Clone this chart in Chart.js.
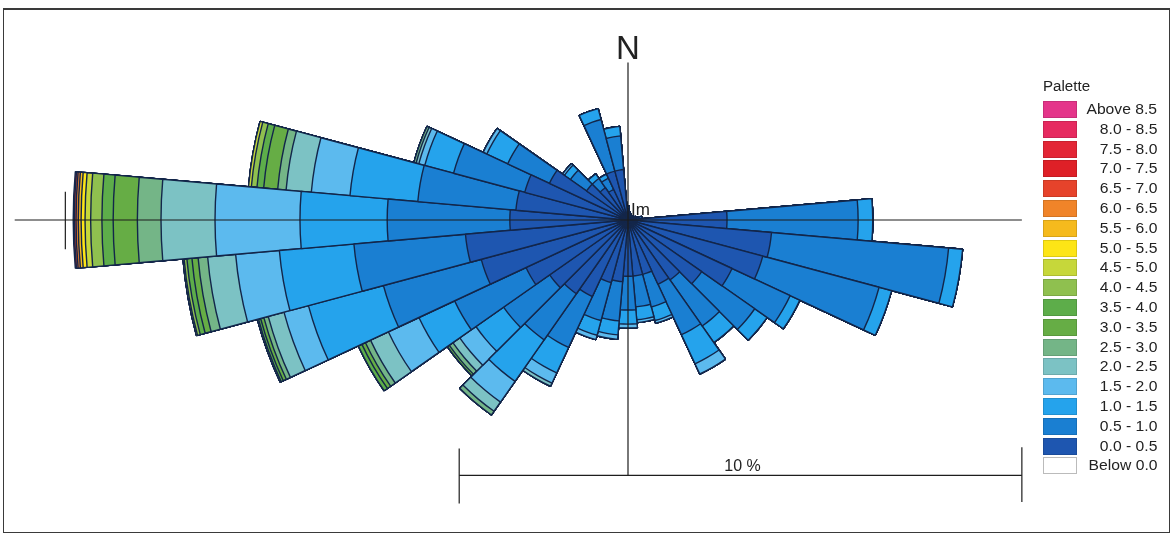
<!DOCTYPE html>
<html>
<head>
<meta charset="utf-8">
<script src="https://cdn.jsdelivr.net/npm/chart.js@4.4.0/dist/chart.umd.min.js"></script>
<style>
  html, body { margin: 0; padding: 0; background: #fff; }
  #wrap { position: relative; width: 1176px; height: 533px; overflow: hidden;
          font-family: "Liberation Sans", Arial, sans-serif; color: #222; }
  #frame { position: absolute; left: 3px; top: 8px; width: 1165px; height: 522px;
           border: 1px solid #3a3a3a; border-top-width: 2px; }
  #chart-box { position: absolute; left: 0; top: 0; width: 1176px; height: 533px; }
  #legend { position: absolute; left: 1043px; top: 78px; width: 114px; }
  #legend .ttl { font-size: 14px; height: 23px; line-height: 16px;
                 transform: scaleX(1.08); transform-origin: left center; }
  #legend .row { position: relative; height: 19.8px; }
  #legend .sw { position: absolute; left: 0; top: 0; width: 34px; height: 17px;
                box-sizing: border-box; border: 1px solid rgba(0,0,0,0.12); }
  #legend .lb { position: absolute; right: 0; top: 0; font-size: 14px; line-height: 17px;
                white-space: nowrap; transform: scaleX(1.12); transform-origin: right center; }
</style>
</head>
<body>
<div id="wrap">
  <div id="frame"></div>
  <div id="chart-box"><canvas id="rose"></canvas></div>
  <div id="legend"></div>
</div>
<script>
// direction sectors, degrees clockwise from north
const DIRECTIONS = [0, 10, 20, 30, 40, 50, 60, 70, 80, 90,
                    100, 110, 120, 130, 140, 150, 160, 170, 180, 190,
                    200, 210, 220, 230, 240, 250, 260, 270, 280, 290,
                    300, 310, 320, 330, 340, 350];

// legend entries, top to bottom
const PALETTE_LABELS = ['Above 8.5', '8.0 - 8.5', '7.5 - 8.0', '7.0 - 7.5', '6.5 - 7.0',
                        '6.0 - 6.5', '5.5 - 6.0', '5.0 - 5.5', '4.5 - 5.0', '4.0 - 4.5',
                        '3.5 - 4.0', '3.0 - 3.5', '2.5 - 3.0', '2.0 - 2.5', '1.5 - 2.0',
                        '1.0 - 1.5', '0.5 - 1.0', '0.0 - 0.5', 'Below 0.0'];
const PALETTE_COLORS = ['#e4358a', '#e62a60', '#e32636', '#de2027', '#e6432b',
                        '#f08429', '#f5ba1d', '#fde516', '#c6d73a', '#8fc04f',
                        '#5dad4a', '#66ad45', '#74b587', '#7cc2c4', '#5cbaee',
                        '#25a3ec', '#1a7fd2', '#1e56b0', '#ffffff'];

// % of records per direction for each class (one value per DIRECTIONS entry)
const pct00_05 = [0.20, 0.15, 0.12, 0.10, 0.10, 0.10, 0.12, 0.15, 0.20, 1.76,
                  2.56, 2.48, 2.04, 1.60, 1.30, 1.26, 1.00, 1.00, 1.00, 1.10,
                  1.15, 1.50, 1.60, 1.70, 2.00, 2.70, 2.90, 2.10, 2.00, 1.90,
                  1.54, 0.90, 0.70, 0.60, 0.90, 0.90];
const pct05_10 = [0.05, 0, 0, 0, 0, 0, 0, 0, 0.05, 2.33,
                  3.16, 2.14, 1.14, 1.15, 1.00, 0.99, 0.60, 0.55, 0.60, 0.70,
                  0.70, 1.00, 1.00, 1.00, 1.40, 1.80, 1.99, 2.18, 1.75, 1.31,
                  0.82, 0.35, 0.20, 0.22, 0.95, 0.60];
const pct10_15 = [0, 0, 0, 0, 0, 0, 0, 0, 0, 0.26,
                  0.25, 0.23, 0.19, 0.27, 0.36, 0.57, 0.25, 0.23, 0.25, 0.25,
                  0.27, 0.50, 0.90, 0.60, 0.70, 1.38, 1.33, 1.55, 1.21, 0.53,
                  0.41, 0.13, 0.10, 0.08, 0.20, 0.17];
const pct15_20 = [0, 0, 0, 0, 0, 0, 0, 0, 0, 0,
                  0, 0, 0, 0, 0, 0.20, 0.05, 0.05, 0.07, 0.08,
                  0.08, 0.20, 0.45, 0.35, 0.60, 0.45, 0.78, 1.51, 0.69, 0.11,
                  0.07, 0.04, 0, 0, 0, 0];
const pct20_25 = [0, 0, 0, 0, 0, 0, 0, 0, 0, 0,
                  0, 0, 0, 0, 0, 0, 0, 0, 0, 0,
                  0, 0.06, 0.20, 0.15, 0.35, 0.29, 0.50, 0.96, 0.45, 0.05,
                  0, 0, 0, 0, 0, 0];
const pct25_30 = [0, 0, 0, 0, 0, 0, 0, 0, 0, 0,
                  0, 0, 0, 0, 0, 0, 0, 0, 0, 0,
                  0, 0, 0.08, 0.08, 0.10, 0.08, 0.17, 0.42, 0.15, 0.04,
                  0, 0, 0, 0, 0, 0];
const pct30_35 = [0, 0, 0, 0, 0, 0, 0, 0, 0, 0,
                  0, 0, 0, 0, 0, 0, 0, 0, 0, 0,
                  0, 0, 0, 0.04, 0.07, 0.06, 0.11, 0.43, 0.25, 0,
                  0, 0, 0, 0, 0, 0];
const pct35_40 = [0, 0, 0, 0, 0, 0, 0, 0, 0, 0,
                  0, 0, 0, 0, 0, 0, 0, 0, 0, 0,
                  0, 0, 0, 0, 0.07, 0.04, 0.09, 0.20, 0.12, 0,
                  0, 0, 0, 0, 0, 0];
const pct40_45 = [0, 0, 0, 0, 0, 0, 0, 0, 0, 0,
                  0, 0, 0, 0, 0, 0, 0, 0, 0, 0,
                  0, 0, 0, 0, 0, 0.02, 0.05, 0.20, 0.10, 0,
                  0, 0, 0, 0, 0, 0];
const pct45_50 = [0, 0, 0, 0, 0, 0, 0, 0, 0, 0,
                  0, 0, 0, 0, 0, 0, 0, 0, 0, 0,
                  0, 0, 0, 0, 0, 0, 0.02, 0.10, 0.05, 0,
                  0, 0, 0, 0, 0, 0];
const pct50_55 = [0, 0, 0, 0, 0, 0, 0, 0, 0, 0,
                  0, 0, 0, 0, 0, 0, 0, 0, 0, 0,
                  0, 0, 0, 0, 0, 0, 0, 0.07, 0, 0,
                  0, 0, 0, 0, 0, 0];
const pct55_60 = [0, 0, 0, 0, 0, 0, 0, 0, 0, 0,
                  0, 0, 0, 0, 0, 0, 0, 0, 0, 0,
                  0, 0, 0, 0, 0, 0, 0, 0.05, 0, 0,
                  0, 0, 0, 0, 0, 0];
const pct60_65 = [0, 0, 0, 0, 0, 0, 0, 0, 0, 0,
                  0, 0, 0, 0, 0, 0, 0, 0, 0, 0,
                  0, 0, 0, 0, 0, 0, 0, 0.04, 0, 0,
                  0, 0, 0, 0, 0, 0];
const pct65_70 = [0, 0, 0, 0, 0, 0, 0, 0, 0, 0,
                  0, 0, 0, 0, 0, 0, 0, 0, 0, 0,
                  0, 0, 0, 0, 0, 0, 0, 0.03, 0, 0,
                  0, 0, 0, 0, 0, 0];
const pct70_75 = [0, 0, 0, 0, 0, 0, 0, 0, 0, 0,
                  0, 0, 0, 0, 0, 0, 0, 0, 0, 0,
                  0, 0, 0, 0, 0, 0, 0, 0.02, 0, 0,
                  0, 0, 0, 0, 0, 0];

// classes from the centre outwards
const SERIES = [pct00_05, pct05_10, pct10_15, pct15_20, pct20_25, pct25_30, pct30_35,
                pct35_40, pct40_45, pct45_50, pct50_55, pct55_60, pct60_65, pct65_70, pct70_75];

const SCALE_BAR_PCT = 10;
const R_MAX = 3.91;          // % reached at the top edge of the plot area
const OUTLINE = '#13264a';

// legend (html)
const legendEl = document.getElementById('legend');
legendEl.innerHTML = '<div class="ttl">Palette</div>' + PALETTE_LABELS.map((lab, i) =>
  `<div class="row"><div class="sw" style="background:${PALETTE_COLORS[i]}${i === PALETTE_LABELS.length - 1 ? ';border-color:#bbb' : ''}"></div><div class="lb">${lab}</div></div>`
).join('');

// stacked rose: each class drawn as a full sector out to its running total,
// inner classes (lower dataset index) are painted over the outer ones
const running = DIRECTIONS.map(() => 0);
const datasets = SERIES.map((vals, i) => {
  const data = vals.map((v, d) => (running[d] = +(running[d] + v).toFixed(3)));
  const colorIdx = PALETTE_LABELS.length - 2 - i;
  return {
    label: PALETTE_LABELS[colorIdx],
    data,
    backgroundColor: PALETTE_COLORS[colorIdx],
    borderColor: OUTLINE,
    borderWidth: 1.4,
    clip: false,
  };
});

const roseAxes = {
  id: 'roseAxes',
  afterDatasetsDraw(chart) {
    const r = chart.scales.r;
    const cx = r.xCenter, cy = r.yCenter;
    const d = v => r.getDistanceFromCenterForValue(v);
    const c = chart.ctx;
    const line = (x1, y1, x2, y2) => { c.beginPath(); c.moveTo(x1, y1); c.lineTo(x2, y2); c.stroke(); };
    c.save();
    c.strokeStyle = '#1d1d1d';
    c.lineWidth = 1.2;
    // compass axes
    line(cx, cy - d(2.8), cx, cy + d(4.54));
    line(cx - d(10.9), cy, cx + d(7), cy);
    line(cx - d(SCALE_BAR_PCT), cy - d(0.5), cx - d(SCALE_BAR_PCT), cy + d(0.52));
    // scale bar
    const by = cy + d(4.54);
    const x0 = cx - d(3), x1 = x0 + d(SCALE_BAR_PCT);
    line(x0, by, x1, by);
    line(x0, by - d(0.48), x0, by + d(0.5));
    line(x1, by - d(0.5), x1, by + d(0.47));
    c.fillStyle = '#222';
    c.textAlign = 'center';
    c.textBaseline = 'alphabetic';
    c.font = '16px "Liberation Sans", Arial, sans-serif';
    c.fillText(SCALE_BAR_PCT + ' %', (x0 + x1) / 2 + 2, by - 4);
    c.font = '33px "Liberation Sans", Arial, sans-serif';
    c.fillText('N', cx, cy - d(2.87));
    c.textAlign = 'left';
    c.font = '17px "Liberation Sans", Arial, sans-serif';
    c.fillText('Im', cx + 3, cy - 5);
    c.restore();
  }
};

new Chart(document.getElementById('rose'), {
  type: 'polarArea',
  data: { labels: DIRECTIONS.map(a => a + '°'), datasets },
  options: {
    responsive: true,
    maintainAspectRatio: false,
    animation: false,
    events: [],
    layout: { padding: { left: 80, right: 0, top: 0, bottom: 93 } },
    plugins: { legend: { display: false }, tooltip: { enabled: false } },
    scales: {
      r: {
        display: false,
        min: 0,
        max: R_MAX,
        startAngle: -5,
        ticks: { display: false },
      }
    }
  },
  plugins: [roseAxes]
});
</script>
</body>
</html>
